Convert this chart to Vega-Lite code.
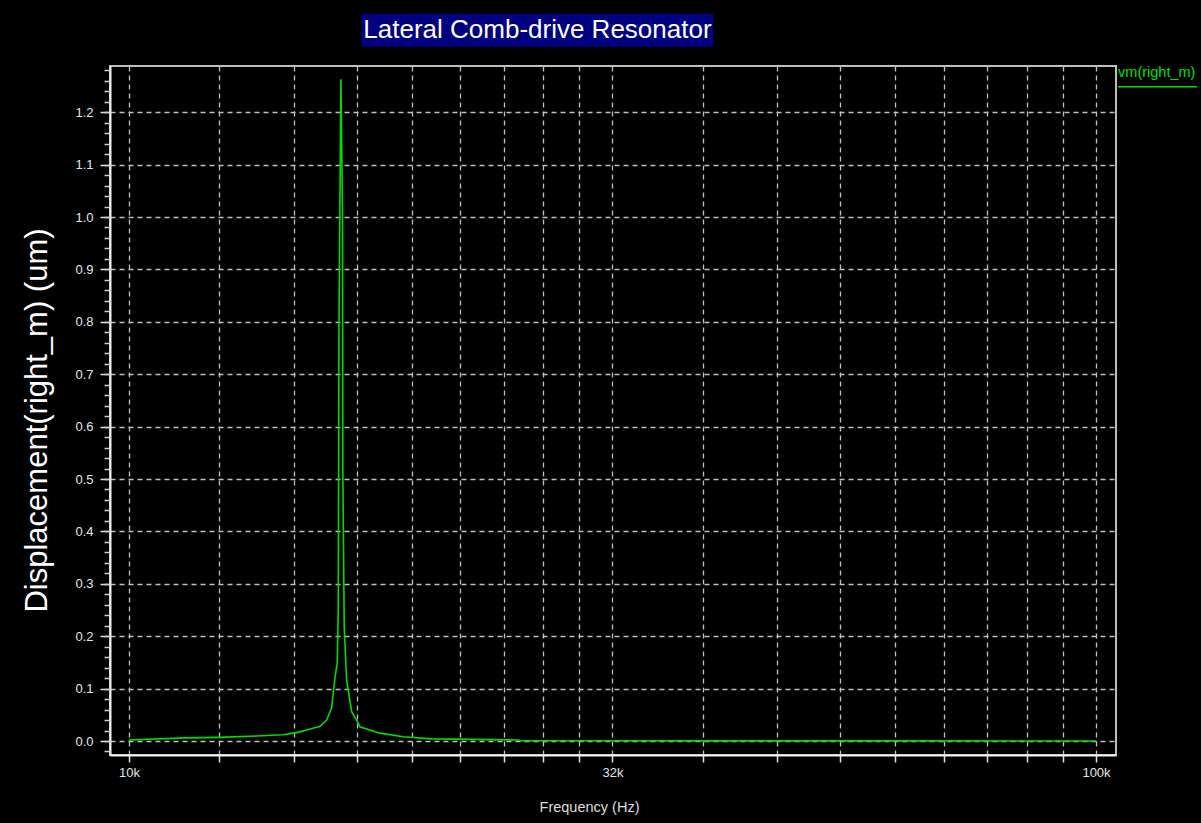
{
  "$schema": "https://vega.github.io/schema/vega-lite/v6.json",
  "width": 1006,
  "height": 689,
  "autosize": {"type": "none"},
  "padding": {"left": 110, "top": 66, "right": 85, "bottom": 68},
  "background": "#000000",
  "config": {"view": {"stroke": "#bdbdbd", "strokeWidth": 2}, "font": "Liberation Sans"},
  "datasets": {
    "sweep": [
      {"frequency": 10000, "displacement": 0.002},
      {"frequency": 11430, "displacement": 0.006},
      {"frequency": 12420, "displacement": 0.007},
      {"frequency": 13560, "displacement": 0.0095},
      {"frequency": 14430, "displacement": 0.012},
      {"frequency": 14910, "displacement": 0.016},
      {"frequency": 15270, "displacement": 0.021},
      {"frequency": 15760, "displacement": 0.028},
      {"frequency": 16010, "displacement": 0.04},
      {"frequency": 16200, "displacement": 0.063},
      {"frequency": 16330, "displacement": 0.12},
      {"frequency": 16420, "displacement": 0.15},
      {"frequency": 16460, "displacement": 0.254},
      {"frequency": 16488, "displacement": 0.8},
      {"frequency": 16565, "displacement": 1.263},
      {"frequency": 16625, "displacement": 1.017},
      {"frequency": 16638, "displacement": 0.523},
      {"frequency": 16695, "displacement": 0.216},
      {"frequency": 16790, "displacement": 0.116},
      {"frequency": 16993, "displacement": 0.056},
      {"frequency": 17250, "displacement": 0.035},
      {"frequency": 17330, "displacement": 0.027},
      {"frequency": 18170, "displacement": 0.015},
      {"frequency": 19210, "displacement": 0.008},
      {"frequency": 20560, "displacement": 0.004},
      {"frequency": 25260, "displacement": 0.002},
      {"frequency": 25400, "displacement": 0.0005},
      {"frequency": 31620, "displacement": 0.0004},
      {"frequency": 40000, "displacement": 0.0003},
      {"frequency": 60000, "displacement": 0.0002},
      {"frequency": 100000, "displacement": 0.0001}
    ]
  },
  "data": {"name": "sweep"},
  "resolve": {"axis": {"y": "independent"}},
  "layer": [
    {
      "mark": {"type": "line", "color": "#00dc00", "strokeWidth": 1.6},
      "encoding": {
        "x": {
          "field": "frequency",
          "type": "quantitative",
          "scale": {"type": "log", "domain": [9558, 104876], "nice": false},
          "axis": {
            "title": "Frequency (Hz)",
            "values": [10000, 12400, 14800, 17200, 19600, 22000, 24400, 26800, 29200, 31620, 39218, 46816, 54414, 62012, 69610, 77208, 84806, 92404, 100000],
            "labelExpr": "datum.value === 10000 ? '10k' : (datum.value === 31620 ? '32k' : (datum.value === 100000 ? '100k' : ''))",
            "labelOverlap": false,
            "labelFlush": false,
            "grid": true,
            "gridColor": "#c0c0c0",
            "gridDash": [5, 4],
            "gridWidth": 1.3,
            "domainColor": "#f0f0f0",
            "domainWidth": 2,
            "tickColor": "#e0e0e0",
            "tickSize": 7,
            "tickWidth": 1.5,
            "labelColor": "#e6e6e6",
            "labelFontSize": 13,
            "labelPadding": 4,
            "titleColor": "#dcdcdc",
            "titleFontSize": 14.5,
            "titleFontWeight": "normal",
            "titleX": 479,
            "titleY": 52,
            "titleBaseline": "middle",
            "titleAlign": "center"
          }
        },
        "y": {
          "field": "displacement",
          "type": "quantitative",
          "scale": {"domain": [-0.0267, 1.2882], "nice": false, "zero": false},
          "axis": {
            "title": "Displacement(right_m) (um)",
            "orient": "left",
            "values": [0, 0.1, 0.2, 0.3, 0.4, 0.5, 0.6, 0.7, 0.8, 0.9, 1.0, 1.1, 1.2],
            "format": ".1f",
            "grid": true,
            "gridColor": "#c0c0c0",
            "gridDash": [5, 4],
            "gridWidth": 1.3,
            "tickSize": 10,
            "tickColor": "#e0e0e0",
            "tickWidth": 1.5,
            "domainColor": "#f0f0f0",
            "domainWidth": 2,
            "labelColor": "#e6e6e6",
            "labelFontSize": 13,
            "labelPadding": 7,
            "titleColor": "#ffffff",
            "titleFontSize": 31,
            "titleFontWeight": "normal",
            "titleX": -73,
            "titleY": 354,
            "titleAngle": -90,
            "titleBaseline": "middle",
            "titleAlign": "center"
          }
        }
      }
    },
    {
      "mark": {"type": "line", "opacity": 0},
      "encoding": {
        "x": {"field": "frequency", "type": "quantitative"},
        "y": {
          "field": "displacement",
          "type": "quantitative",
          "axis": {
            "orient": "left",
            "title": null,
            "values": [-0.02, 0, 0.02, 0.04, 0.06, 0.08, 0.1, 0.12, 0.14, 0.16, 0.18, 0.2, 0.22, 0.24, 0.26, 0.28, 0.3, 0.32, 0.34, 0.36, 0.38, 0.4, 0.42, 0.44, 0.46, 0.48, 0.5, 0.52, 0.54, 0.56, 0.58, 0.6, 0.62, 0.64, 0.66, 0.68, 0.7, 0.72, 0.74, 0.76, 0.78, 0.8, 0.82, 0.84, 0.86, 0.88, 0.9, 0.92, 0.94, 0.96, 0.98, 1.0, 1.02, 1.04, 1.06, 1.08, 1.1, 1.12, 1.14, 1.16, 1.18, 1.2, 1.22, 1.24, 1.26, 1.28],
            "labels": false,
            "grid": false,
            "domain": false,
            "tickSize": 6,
            "tickColor": "#d0d0d0",
            "tickWidth": 1.5
          }
        }
      }
    },
    {
      "data": {"values": [{"title": "Lateral Comb-drive Resonator"}]},
      "mark": {"type": "rect", "color": "#000080"},
      "encoding": {
        "x": {"datum": 17400, "type": "quantitative"},
        "x2": {"datum": 40200},
        "y": {"datum": 1.388, "type": "quantitative", "axis": null},
        "y2": {"datum": 1.325}
      }
    },
    {
      "data": {"values": [{"title": "Lateral Comb-drive Resonator"}]},
      "mark": {"type": "text", "color": "#ffffff", "fontSize": 26, "align": "center", "baseline": "middle"},
      "encoding": {
        "x": {"datum": 26448, "type": "quantitative"},
        "y": {"datum": 1.3565, "type": "quantitative", "axis": null},
        "text": {"field": "title"}
      }
    },
    {
      "data": {"values": [{"series": "vm(right_m)"}]},
      "mark": {"type": "text", "color": "#00e000", "fontSize": 14.5, "align": "left", "baseline": "middle"},
      "encoding": {
        "x": {"datum": 105400, "type": "quantitative"},
        "y": {"datum": 1.2748, "type": "quantitative", "axis": null},
        "text": {"field": "series"}
      }
    },
    {
      "data": {"values": [{"series": "vm(right_m)"}]},
      "mark": {"type": "rule", "color": "#00e000", "strokeWidth": 1.5},
      "encoding": {
        "x": {"datum": 105375, "type": "quantitative"},
        "x2": {"datum": 127200},
        "y": {"datum": 1.2487, "type": "quantitative", "axis": null}
      }
    }
  ]
}
